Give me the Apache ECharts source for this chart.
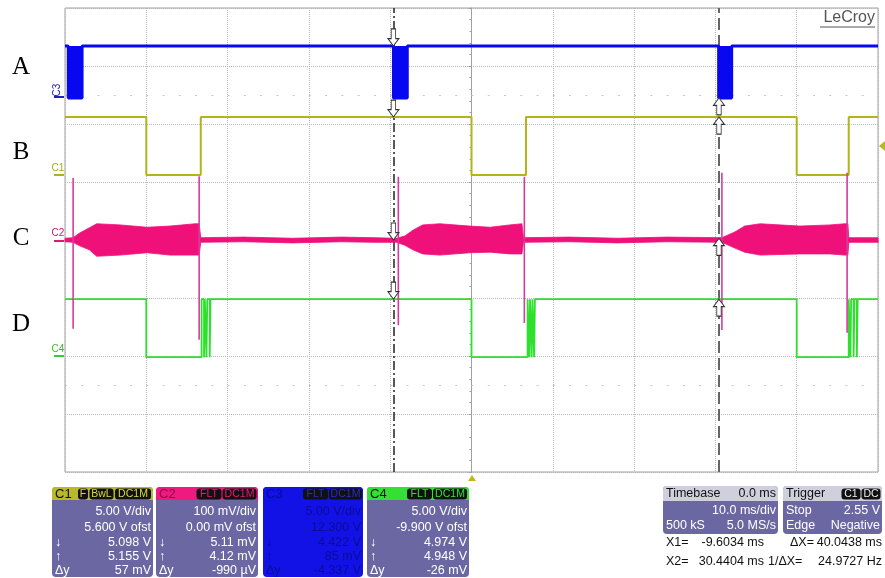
<!DOCTYPE html>
<html><head><meta charset="utf-8">
<script src="https://cdn.jsdelivr.net/npm/echarts@6/dist/echarts.min.js"></script>
<style>html,body{margin:0;padding:0;background:#fff}#c{width:885px;height:578px}</style>
</head><body><div id="c"></div>
<script>
// ---------- data (time in ms, amplitude in screen divisions, centre = 0) ----------
const C3_HIGH = 3.345, C3_LOW = 2.45;
const c3PulseStart = [-49.6, -9.6, 30.4];
const c3PulseEnd   = [-47.9, -7.9, 32.0];

const C1_HIGH = 2.12, C1_LOW = 1.12;
const c1Edges = [-40.0, -33.3, 0.0, 6.7, 40.0, 46.4];

const C4_HIGH = -1.02, C4_LOW = -2.02;
const c4Edges = [-40.0, -33.2, -32.9, -32.8, -32.6, -32.5, -32.2, -32.1,
                 0.0, 6.9, 7.1, 7.2, 7.4, 7.5, 7.7, 7.8,
                 40.0, 46.4, 46.6, 46.7, 47.0, 47.1, 47.4, 47.5];

const c2EnvT  = [-50, -49.0, -48.2, -47.0, -46.1, -43.2, -39.9, -37.1, -34.0, -33.5, -33.3, -28, -22, -16, -12, -9.2, -8.2, -7.2, -6.0, -3.9, -0.2, 2.3, 4.7, 6.2, 6.4, 12, 18, 24, 30.8, 32.4, 33.6, 35.5, 40.4, 44.1, 45.9, 46.3, 46.4, 50];
const c2EnvHi = [0.03, 0.04, 0.12, 0.21, 0.28, 0.26, 0.22, 0.24, 0.28, 0.28, 0.04, 0.05, 0.03, 0.05, 0.04, 0.03, 0.07, 0.17, 0.26, 0.28, 0.24, 0.22, 0.26, 0.28, 0.04, 0.05, 0.03, 0.05, 0.04, 0.14, 0.24, 0.28, 0.24, 0.26, 0.28, 0.28, 0.04, 0.04];
const c2EnvLo = [-0.03, -0.04, -0.10, -0.17, -0.28, -0.26, -0.22, -0.26, -0.26, -0.26, -0.04, -0.03, -0.05, -0.03, -0.04, -0.04, -0.09, -0.17, -0.24, -0.26, -0.22, -0.21, -0.24, -0.24, -0.04, -0.03, -0.05, -0.03, -0.04, -0.14, -0.21, -0.26, -0.24, -0.24, -0.26, -0.26, -0.04, -0.04];

const c2SpikeT   = [-49.0, -33.5, -9.0, 6.5, 30.8, 46.2];
const c2SpikeTop = [1.07, 1.10, 1.09, 1.09, 1.16, 1.16];
const c2SpikeBot = [-1.53, -1.72, -1.47, -1.43, -1.55, -1.60];

const cursorX1 = -9.6034, cursorX2 = 30.4404;
const x1ArrowY = [C3_HIGH, C1_HIGH, 0.0, C4_HIGH];
const x2ArrowY = [C3_LOW, C1_HIGH, 0.03, C4_HIGH];

// ---------- helpers ----------
function stepData(edges, hi, lo) {
  const pts = [[-50, hi]]; let lvl = hi;
  edges.forEach(e => { pts.push([e, lvl]); lvl = (lvl === hi ? lo : hi); pts.push([e, lvl]); });
  pts.push([50, lvl]);
  return pts;
}
const c3Edges = [];
c3PulseStart.forEach((s, i) => { c3Edges.push(s, c3PulseEnd[i]); });

const FONT = 'Liberation Sans, Arial, sans-serif';
const chart = echarts.init(document.getElementById('c'), null, {renderer: 'canvas'});

const downArrow = 'path://M3,0 L7,0 L7,9 L10,9 L5,16 L0,9 L3,9 Z';
const upArrow = 'path://M5,0 L10,7 L7,7 L7,16 L3,16 L3,7 L0,7 Z';

// ---------- panel graphics ----------
const g = [];
function txt(x, y, s, color, opts) {
  g.push(Object.assign({type: 'text', x: x, y: y, z: 100,
    style: Object.assign({text: s, fill: color, font: '12.5px ' + FONT, textVerticalAlign: 'middle', textAlign: 'left'}, opts || {})}));
}
function rect(x, y, w, h, fill, r) {
  g.push({type: 'rect', z: 90, shape: {x: x, y: y, width: w, height: h, r: r || 0}, style: {fill: fill}});
}
function badge(x, w, s, color, y) {
  y = y || 488.5;
  rect(x, y, w, 11, '#111', 3);
  txt(x + w / 2, y + 5.8, s, color, {textAlign: 'center', font: '10.5px ' + FONT});
}
const BODY = '#6b67a2';
function chPanel(x, w, head, bodyFill, label, labelColor, badges, badgeColor, rows, rowColor) {
  rect(x, 487, w, 90, bodyFill, 4);
  rect(x, 487, w, 13, head, [4, 4, 0, 0]);
  txt(x + 3, 494, label, labelColor, {font: '13px ' + FONT});
  badges.forEach(b => badge(b[0], b[1], b[2], badgeColor));
  const ys = [512, 527.5, 542.5, 556.5, 570.5];
  rows.forEach((r, i) => {
    if (r[0]) txt(x + 3, ys[i], r[0], rowColor);
    txt(x + w - 2, ys[i], r[1], rowColor, {textAlign: 'right'});
  });
}
chPanel(52, 101, '#b9b92a', BODY, 'C1', '#111', [[78, 10, 'F'], [89.5, 24, 'BwL'], [115, 36, 'DC1M']], '#d8d840',
  [['', '5.00 V/div'], ['', '5.600 V ofst'], ['↓', '5.098 V'], ['↑', '5.155 V'], ['Δy', '57 mV']], '#ffffff');
chPanel(156, 102, '#ee1a80', BODY, 'C2', '#8a0c48', [[196.5, 25, 'FLT'], [222.5, 34, 'DC1M']], '#f0147c',
  [['', '100 mV/div'], ['', '0.00 mV ofst'], ['↓', '5.11 mV'], ['↑', '4.12 mV'], ['Δy', '-990 µV']], '#ffffff');
chPanel(263, 100, '#1212e6', '#1212e6', 'C3', '#0a0aa0', [[303, 25, 'FLT'], [329, 33, 'DC1M']], '#2a2ac8',
  [['', '5.00 V/div'], ['', '12.300 V'], ['↓', '4.422 V'], ['↑', '85 mV'], ['Δy', '-4.337 V']], '#0c0c96');
chPanel(367, 102, '#33e033', BODY, 'C4', '#111', [[407, 25, 'FLT'], [433, 34, 'DC1M']], '#33e033',
  [['', '5.00 V/div'], ['', '-9.900 V ofst'], ['↓', '4.974 V'], ['↑', '4.948 V'], ['Δy', '-26 mV']], '#ffffff');

// timebase
const PF = '12.5px ' + FONT;
rect(663, 486, 115, 48, BODY, 4);
rect(663, 486, 115, 15, '#cfcfdd', [4, 4, 0, 0]);
txt(666, 494, 'Timebase', '#111', {font: PF});
txt(776, 494, '0.0 ms', '#111', {textAlign: 'right', font: PF});
txt(776, 511, '10.0 ms/div', '#fff', {textAlign: 'right', font: PF});
txt(666, 526, '500 kS', '#fff', {font: PF});
txt(776, 526, '5.0 MS/s', '#fff', {textAlign: 'right', font: PF});
// trigger
rect(783, 486, 99, 48, BODY, 4);
rect(783, 486, 99, 15, '#cfcfdd', [4, 4, 0, 0]);
txt(786, 494, 'Trigger', '#111', {font: PF});
badge(841.5, 19, 'C1', '#eee', 488.5);
badge(861.5, 19, 'DC', '#eee', 488.5);
txt(786, 511, 'Stop', '#fff', {font: PF});
txt(880, 511, '2.55 V', '#fff', {textAlign: 'right', font: PF});
txt(786, 526, 'Edge', '#fff', {font: PF});
txt(880, 526, 'Negative', '#fff', {textAlign: 'right', font: PF});
// cursor readouts
const RF = '12.5px ' + FONT;
txt(666, 543, 'X1=', '#111', {font: RF});
txt(764, 543, '-9.6034 ms', '#111', {font: RF, textAlign: 'right'});
txt(790, 543, 'ΔX=', '#111', {font: RF});
txt(882, 543, '40.0438 ms', '#111', {font: RF, textAlign: 'right'});
txt(666, 562, 'X2=', '#111', {font: RF});
txt(764, 562, '30.4404 ms', '#111', {font: RF, textAlign: 'right'});
txt(768, 562, '1/ΔX=', '#111', {font: RF});
txt(882, 562, '24.9727 Hz', '#111', {font: RF, textAlign: 'right'});

// left letters
[['A', 67], ['B', 152], ['C', 238], ['D', 324]].forEach(a => {
  txt(21, a[1], a[0], '#000', {font: '25px Liberation Serif, Times New Roman, serif', textAlign: 'center'});
});
// channel ground markers and labels
function chMark(y, color) {
  g.push({type: 'line', z: 95, shape: {x1: 54, y1: y, x2: 64, y2: y}, style: {stroke: color, lineWidth: 2}});
}
chMark(97, '#2020c0'); chMark(175, '#b0b020'); chMark(241, '#d0206e'); chMark(356, '#33d033');
g.push({type: 'text', z: 95, x: 57, y: 90, rotation: Math.PI / 2,
  style: {text: 'C3', fill: '#2020b0', font: '10px ' + FONT, textAlign: 'center', textVerticalAlign: 'middle'}});
txt(58, 168, 'C1', '#a8a820', {font: '10px ' + FONT, textAlign: 'center'});
txt(58, 233, 'C2', '#c02070', {font: '10px ' + FONT, textAlign: 'center'});
txt(58, 349, 'C4', '#30c030', {font: '10px ' + FONT, textAlign: 'center'});
// LeCroy
txt(875, 18, 'LeCroy', '#555', {font: '16px ' + FONT, textAlign: 'right'});
g.push({type: 'line', z: 95, shape: {x1: 820, y1: 27, x2: 875, y2: 27}, style: {stroke: '#555', lineWidth: 1}});
// trigger markers
g.push({type: 'polygon', z: 95, shape: {points: [[885, 141], [885, 151], [879, 146]]}, style: {fill: '#b8b820'}});
g.push({type: 'polygon', z: 95, shape: {points: [[468, 481], [476, 481], [472, 475]]}, style: {fill: '#b8b820'}});

// ---------- series ----------
const envItem = [[0]];
const option = {
  animation: false,
  backgroundColor: '#fff',
  grid: {left: 65, top: 8, width: 813, height: 464, show: true, borderColor: '#a0a0a0', borderWidth: 1, containLabel: false},
  xAxis: {type: 'value', min: -50, max: 50, interval: 10,
    axisLabel: {show: false},
    axisLine: {show: true, onZero: true, lineStyle: {color: '#a0a0a0', width: 1}},
    axisTick: {show: true, length: 3, lineStyle: {color: '#a0a0a0'}},
    minorTick: {show: true, splitNumber: 5, length: 2, lineStyle: {color: '#a0a0a0'}},
    splitLine: {show: true, lineStyle: {type: 'dotted', color: '#b8b8b8', width: 1}}},
  yAxis: {type: 'value', min: -4, max: 4, interval: 1,
    axisLabel: {show: false},
    axisLine: {show: true, onZero: true, lineStyle: {color: '#a0a0a0', width: 1}},
    axisTick: {show: true, length: 3, lineStyle: {color: '#a0a0a0'}},
    minorTick: {show: true, splitNumber: 5, length: 2, lineStyle: {color: '#a0a0a0'}},
    splitLine: {show: true, lineStyle: {type: 'dotted', color: '#b8b8b8', width: 1}}},
  graphic: g,
  series: [
    { // faint dotted rows
      type: 'line', data: [], silent: true, z: 1,
      markLine: {silent: true, symbol: 'none', label: {show: false}, animation: false,
        data: [
          {yAxis: 2.5, lineStyle: {type: [2, 14.26], color: '#c8c8c8', width: 1}},
          {yAxis: -2.5, lineStyle: {type: [2, 14.26], color: '#c8c8c8', width: 1}}
        ]}
    },
    { // C3 level
      name: 'C3', type: 'line', data: stepData(c3Edges, C3_HIGH, C3_LOW), showSymbol: false, z: 5,
      lineStyle: {color: '#0808f0', width: 3}
    },
    { // C3 pulses (filled)
      type: 'custom', z: 5, data: c3PulseStart.map((s, i) => [s, c3PulseEnd[i], C3_LOW, C3_HIGH]),
      encode: {x: [0, 1], y: [2, 3]},
      renderItem: function (p, api) {
        const a = api.coord([api.value(0), api.value(3)]);
        const b = api.coord([api.value(1), api.value(2)]);
        return {type: 'rect', shape: {x: a[0], y: a[1], width: b[0] - a[0], height: b[1] - a[1]}, style: {fill: '#0808f0'}};
      }
    },
    { // C1
      name: 'C1', type: 'line', data: stepData(c1Edges, C1_HIGH, C1_LOW), showSymbol: false, z: 5,
      lineStyle: {color: '#b3b31c', width: 2}
    },
    { // C2 envelope
      type: 'custom', z: 6, data: envItem, encode: {x: 0, y: 0},
      renderItem: function (p, api) {
        const pts = [];
        for (let i = 0; i < c2EnvT.length; i++) pts.push(api.coord([c2EnvT[i], c2EnvHi[i]]));
        for (let i = c2EnvT.length - 1; i >= 0; i--) pts.push(api.coord([c2EnvT[i], c2EnvLo[i]]));
        return {type: 'polygon', shape: {points: pts}, style: {fill: '#f0107a', stroke: '#f0107a', lineWidth: 0.8}};
      }
    },
    { // C2 spikes
      type: 'custom', z: 6, data: c2SpikeT.map((t, i) => [t, c2SpikeTop[i], c2SpikeBot[i]]),
      encode: {x: 0, y: [1, 2]},
      renderItem: function (p, api) {
        const a = api.coord([api.value(0), api.value(1)]);
        const b = api.coord([api.value(0), api.value(2)]);
        return {type: 'line', shape: {x1: a[0], y1: a[1], x2: b[0], y2: b[1]}, style: {stroke: '#d43c9c', lineWidth: 1.6}};
      }
    },
    { // C4
      name: 'C4', type: 'line', data: stepData(c4Edges, C4_HIGH, C4_LOW), showSymbol: false, z: 5,
      lineStyle: {color: '#2ee02e', width: 1.8}
    },
    { // cursors
      type: 'line', data: [], z: 7, silent: true,
      markLine: {silent: true, symbol: 'none', label: {show: false},
        data: [
          {xAxis: cursorX1, lineStyle: {type: [9, 3, 2, 3], color: '#222', width: 1.5}},
          {xAxis: cursorX2, lineStyle: {type: [12, 5], color: '#666', width: 2}}
        ]}
    },
    { // X1 arrows
      type: 'scatter', z: 9, data: x1ArrowY.map(v => [cursorX1, v]),
      symbol: downArrow, symbolSize: [11, 17], symbolOffset: [0, -8.5], symbolKeepAspect: false,
      itemStyle: {color: '#ffffff', borderColor: '#333', borderWidth: 1, opacity: 1}
    },
    { // X2 arrows
      type: 'scatter', z: 9, data: x2ArrowY.map(v => [cursorX2, v]),
      symbol: upArrow, symbolSize: [11, 17], symbolOffset: [0, 8.5], symbolKeepAspect: false,
      itemStyle: {color: '#ffffff', borderColor: '#333', borderWidth: 1, opacity: 1}
    }
  ]
};
chart.setOption(option);
</script></body></html>
